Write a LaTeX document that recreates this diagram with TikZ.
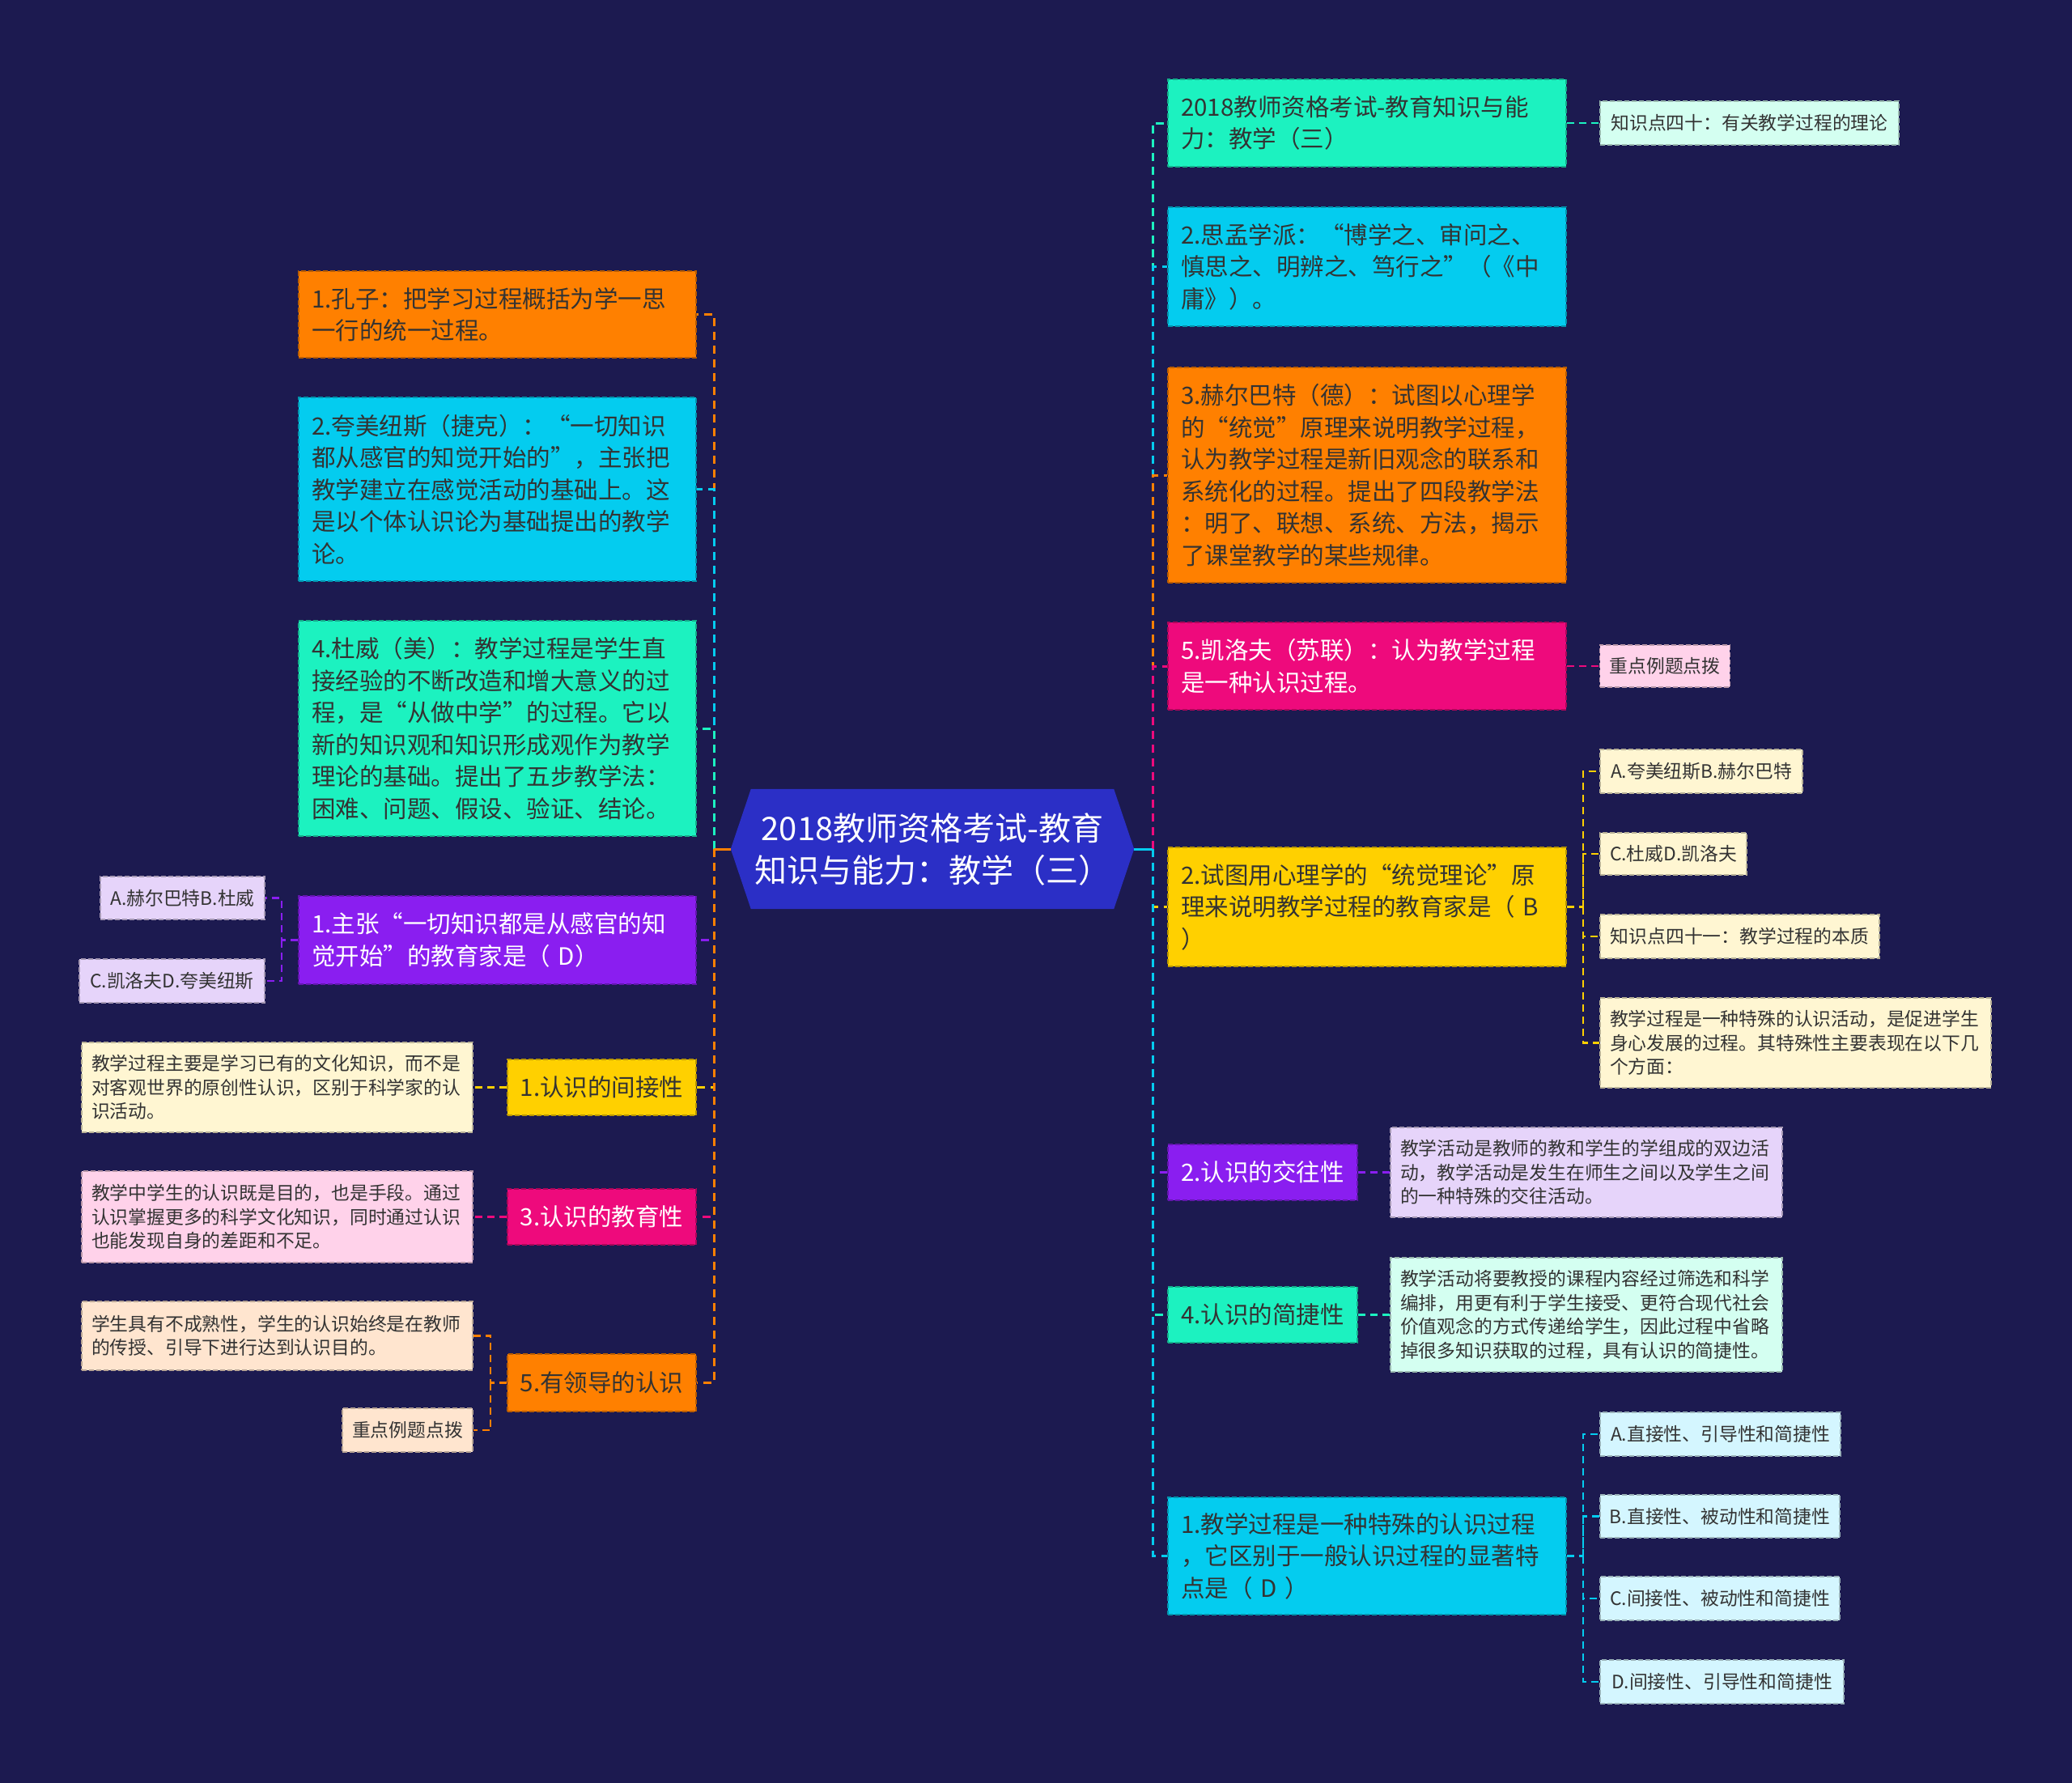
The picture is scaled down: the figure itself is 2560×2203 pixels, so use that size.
\documentclass[tikz,border=0pt]{standalone}
\usepackage{fontspec}
\setmainfont{Noto Sans CJK SC}
\usetikzlibrary{calc}
\definecolor{bg}{HTML}{1C1A50}
\definecolor{chex}{HTML}{2B2FC6}
\definecolor{corange}{HTML}{FF8000}
\definecolor{cblue}{HTML}{04CCEF}
\definecolor{cteal}{HTML}{1CF2C0}
\definecolor{cpurple}{HTML}{8A1EF0}
\definecolor{cpink}{HTML}{EE0A7C}
\definecolor{cyellow}{HTML}{FFD000}
\definecolor{ccream}{HTML}{FFF6D2}
\definecolor{clav}{HTML}{E6D4FA}
\definecolor{clpink}{HTML}{FFD2EA}
\definecolor{cpeach}{HTML}{FFE5CF}
\definecolor{cmint}{HTML}{D4FFF1}
\definecolor{clcyan}{HTML}{D4F6FF}
\definecolor{dtext}{HTML}{333333}
\pgfdeclarelayer{back}
\pgfsetlayers{back,main}
\tikzset{
  mainbox/.style 2 args={rectangle, fill=#1, draw=#1!72!black, dash pattern=on 6pt off 3pt,
    line width=1.6pt, inner xsep=16pt, inner ysep=0pt, align=left, text=#2,
    font=\fontsize{29.5}{39.5}\selectfont},
  smallbox/.style={rectangle, fill=#1, draw=#1!72!black, dash pattern=on 6pt off 3pt,
    line width=1.6pt, inner xsep=12pt, inner ysep=0pt, align=left, text=dtext,
    font=\fontsize{22.8}{29.4}\selectfont},
  wh/.style 2 args={minimum width=#1, minimum height=#2},
  edge/.style={draw=#1, line width=3pt, dash pattern=on 10pt off 7pt},
  subedge/.style={draw=#1, line width=2.6pt, dash pattern=on 9pt off 6pt},
  stub/.style={draw=#1, line width=3pt},
}
\begin{document}
\begin{tikzpicture}[x=1pt,y=-1pt]
\begin{pgfonlayer}{back}
\fill[bg] (0,0) rectangle (2560,2203);
\end{pgfonlayer}
\useasboundingbox (0,0) rectangle (2560,2203);

% centre
\node[text=white, align=center, font=\fontsize{40}{52}\selectfont, minimum width=498pt,
  minimum height=148pt, inner sep=0pt] (c) at (1152,1049) {2018教师资格考试-教育\\知识与能力：教学（三）};
\begin{pgfonlayer}{back}
\fill[chex] (c.west) -- ([xshift=25pt]c.north west) -- ([xshift=-25pt]c.north east) -- (c.east)
  -- ([xshift=-25pt]c.south east) -- ([xshift=25pt]c.south west) -- cycle;
\end{pgfonlayer}

% left main nodes
\node[mainbox={corange}{dtext}, wh={491pt}{107pt}, text width=459pt] (k1) at (614.5,388.5)
  {1.孔子：把学习过程概括为学一思\\一行的统一过程。};
\node[mainbox={cblue}{dtext}, wh={491pt}{227pt}, text width=459pt] (k2) at (614.5,604.5)
  {2.夸美纽斯（捷克）：“一切知识\\都从感官的知觉开始的”，主张把\\教学建立在感觉活动的基础上。这\\是以个体认识论为基础提出的教学\\论。};
\node[mainbox={cteal}{dtext}, wh={491pt}{266pt}, text width=459pt] (k3) at (614.5,900)
  {4.杜威（美）：教学过程是学生直\\接经验的不断改造和增大意义的过\\程，是“从做中学”的过程。它以\\新的知识观和知识形成观作为教学\\理论的基础。提出了五步教学法：\\困难、问题、假设、验证、结论。};
\node[mainbox={cpurple}{white}, wh={491pt}{109pt}, text width=459pt] (k4) at (614.5,1161.5)
  {1.主张“一切知识都是从感官的知\\觉开始”的教育家是（ D）};
\node[mainbox={corange}{dtext}, wh={233pt}{71pt}] (k7) at (743.5,1708.5) {5.有领导的认识};
\node[mainbox={cyellow}{dtext}, wh={233pt}{69pt}] (k5) at (743.5,1343.5) {1.认识的间接性};
\node[mainbox={cpink}{white}, wh={233pt}{69pt}] (k6) at (743.5,1503.5) {3.认识的教育性};

% left sub nodes
\node[smallbox=clav, wh={203pt}{53pt}] (k4a) at (225.5,1109.5) {A.赫尔巴特B.杜威};
\node[smallbox=clav, wh={229pt}{54pt}] (k4c) at (212.5,1212) {C.凯洛夫D.夸美纽斯};
\node[smallbox=ccream, wh={483pt}{111pt}, text width=459pt] (k5a) at (342.5,1343.5)
  {教学过程主要是学习已有的文化知识，而不是\\对客观世界的原创性认识，区别于科学家的认\\识活动。};
\node[smallbox=clpink, wh={483pt}{113pt}, text width=459pt] (k6a) at (342.5,1503.5)
  {教学中学生的认识既是目的，也是手段。通过\\认识掌握更多的科学文化知识，同时通过认识\\也能发现自身的差距和不足。};
\node[smallbox=cpeach, wh={483pt}{85pt}, text width=459pt] (k7a) at (342.5,1650.5)
  {学生具有不成熟性，学生的认识始终是在教师\\的传授、引导下进行达到认识目的。};
\node[smallbox=cpeach, wh={161pt}{54pt}] (k7b) at (503.5,1767) {重点例题点拨};

% right main nodes
\node[mainbox={cteal}{dtext}, wh={492pt}{108pt}, text width=460pt] (r1) at (1689,152)
  {2018教师资格考试-教育知识与能\\力：教学（三）};
\node[mainbox={cblue}{dtext}, wh={492pt}{147pt}, text width=460pt] (r2) at (1689,329.5)
  {2.思孟学派：“博学之、审问之、\\慎思之、明辨之、笃行之”（《中\\庸》）。};
\node[mainbox={corange}{dtext}, wh={492pt}{266pt}, text width=460pt] (r3) at (1689,587)
  {3.赫尔巴特（德）：试图以心理学\\的“统觉”原理来说明教学过程，\\认为教学过程是新旧观念的联系和\\系统化的过程。提出了四段教学法\\：明了、联想、系统、方法，揭示\\了课堂教学的某些规律。};
\node[mainbox={cpink}{white}, wh={492pt}{108pt}, text width=460pt] (r4) at (1689,823)
  {5.凯洛夫（苏联）：认为教学过程\\是一种认识过程。};
\node[mainbox={cyellow}{dtext}, wh={492pt}{147pt}, text width=460pt] (r5) at (1689,1120.5)
  {2.试图用心理学的“统觉理论”原\\理来说明教学过程的教育家是（ B\\）};
\node[mainbox={cpurple}{white}, wh={234pt}{69pt}] (r6) at (1560,1448.5) {2.认识的交往性};
\node[mainbox={cteal}{dtext}, wh={234pt}{69pt}] (r7) at (1560,1624.5) {4.认识的简捷性};
\node[mainbox={cblue}{dtext}, wh={492pt}{145pt}, text width=460pt] (r8) at (1689,1922.5)
  {1.教学过程是一种特殊的认识过程\\，它区别于一般认识过程的显著特\\点是（ D ）};

% right sub nodes
\node[smallbox=cmint, wh={369pt}{54pt}] (r1a) at (2161.5,152) {知识点四十：有关教学过程的理论};
\node[smallbox=clpink, wh={160pt}{52pt}] (r4a) at (2057,823) {重点例题点拨};
\node[smallbox=ccream, wh={250pt}{54pt}] (r5a) at (2102,953) {A.夸美纽斯B.赫尔巴特};
\node[smallbox=ccream, wh={181pt}{52pt}] (r5b) at (2067.5,1055) {C.杜威D.凯洛夫};
\node[smallbox=ccream, wh={345pt}{54pt}] (r5c) at (2149.5,1157) {知识点四十一：教学过程的本质};
\node[smallbox=ccream, wh={483pt}{111pt}, text width=459pt] (r5d) at (2218.5,1288.5)
  {教学过程是一种特殊的认识活动，是促进学生\\身心发展的过程。其特殊性主要表现在以下几\\个方面：};
\node[smallbox=clav, wh={484pt}{111pt}, text width=460pt] (r6a) at (1960,1448.5)
  {教学活动是教师的教和学生的学组成的双边活\\动，教学活动是发生在师生之间以及学生之间\\的一种特殊的交往活动。};
\node[smallbox=cmint, wh={484pt}{141pt}, text width=460pt] (r7a) at (1960,1624.5)
  {教学活动将要教授的课程内容经过筛选和科学\\编排，用更有利于学生接受、更符合现代社会\\价值观念的方式传递给学生，因此过程中省略\\掉很多知识获取的过程，具有认识的简捷性。};
\node[smallbox=clcyan, wh={297pt}{54pt}] (r8a) at (2125.5,1772) {A.直接性、引导性和简捷性};
\node[smallbox=clcyan, wh={296pt}{53pt}] (r8b) at (2125,1873.5) {B.直接性、被动性和简捷性};
\node[smallbox=clcyan, wh={296pt}{54pt}] (r8c) at (2125,1975) {C.间接性、被动性和简捷性};
\node[smallbox=clcyan, wh={301pt}{54pt}] (r8d) at (2127.5,2078) {D.间接性、引导性和简捷性};

% spines
\coordinate (sL) at (882,1049);
\coordinate (sR) at (1424,1049);
\coordinate (k4s) at (348,1161.5);
\coordinate (k7s) at (606,1708.5);
\coordinate (r5s) at (1956,1120.5);
\coordinate (r8s) at (1956,1922.5);

\begin{pgfonlayer}{back}
% left main connectors
\draw[edge=corange] (sL) |- (k1.east);
\draw[edge=cblue] (sL) |- (k2.east);
\draw[edge=cteal] (sL) |- (k3.east);
\draw[edge=cpurple] (sL) |- (k4.east);
\draw[edge=cyellow] (sL) |- (k5.east);
\draw[edge=cpink] (sL) |- (k6.east);
\draw[edge=corange] (sL) |- (k7.east);
\draw[stub=corange] (c.west) -- (sL);
% right main connectors
\draw[edge=cteal] (sR) |- (r1.west);
\draw[edge=cblue] (sR) |- (r2.west);
\draw[edge=corange] (sR) |- (r3.west);
\draw[edge=cpink] (sR) |- (r4.west);
\draw[edge=cyellow] (sR) |- (r5.west);
\draw[edge=cpurple] (sR) |- (r6.west);
\draw[edge=cteal] (sR) |- (r7.west);
\draw[edge=cblue] (sR) |- (r8.west);
\draw[stub=cblue] (c.east) -- (sR);
% sub connectors left
\draw[subedge=cpurple] (k4.west) -- (k4s) |- (k4a.east);
\draw[subedge=cpurple] (k4s) |- (k4c.east);
\draw[subedge=cyellow] (k5.west) -- (k5a.east);
\draw[subedge=cpink] (k6.west) -- (k6a.east);
\draw[subedge=corange] (k7.west) -- (k7s) |- (k7a.east);
\draw[subedge=corange] (k7s) |- (k7b.east);
% sub connectors right
\draw[subedge=cteal] (r1.east) -- (r1a.west);
\draw[subedge=cpink] (r4.east) -- (r4a.west);
\draw[subedge=cyellow] (r5.east) -- (r5s) |- (r5a.west);
\draw[subedge=cyellow] (r5s) |- (r5b.west);
\draw[subedge=cyellow] (r5s) |- (r5c.west);
\draw[subedge=cyellow] (r5s) |- (r5d.west);
\draw[subedge=cpurple] (r6.east) -- (r6a.west);
\draw[subedge=cteal] (r7.east) -- (r7a.west);
\draw[subedge=cblue] (r8.east) -- (r8s) |- (r8a.west);
\draw[subedge=cblue] (r8s) |- (r8b.west);
\draw[subedge=cblue] (r8s) |- (r8c.west);
\draw[subedge=cblue] (r8s) |- (r8d.west);
\end{pgfonlayer}
\end{tikzpicture}
\end{document}
